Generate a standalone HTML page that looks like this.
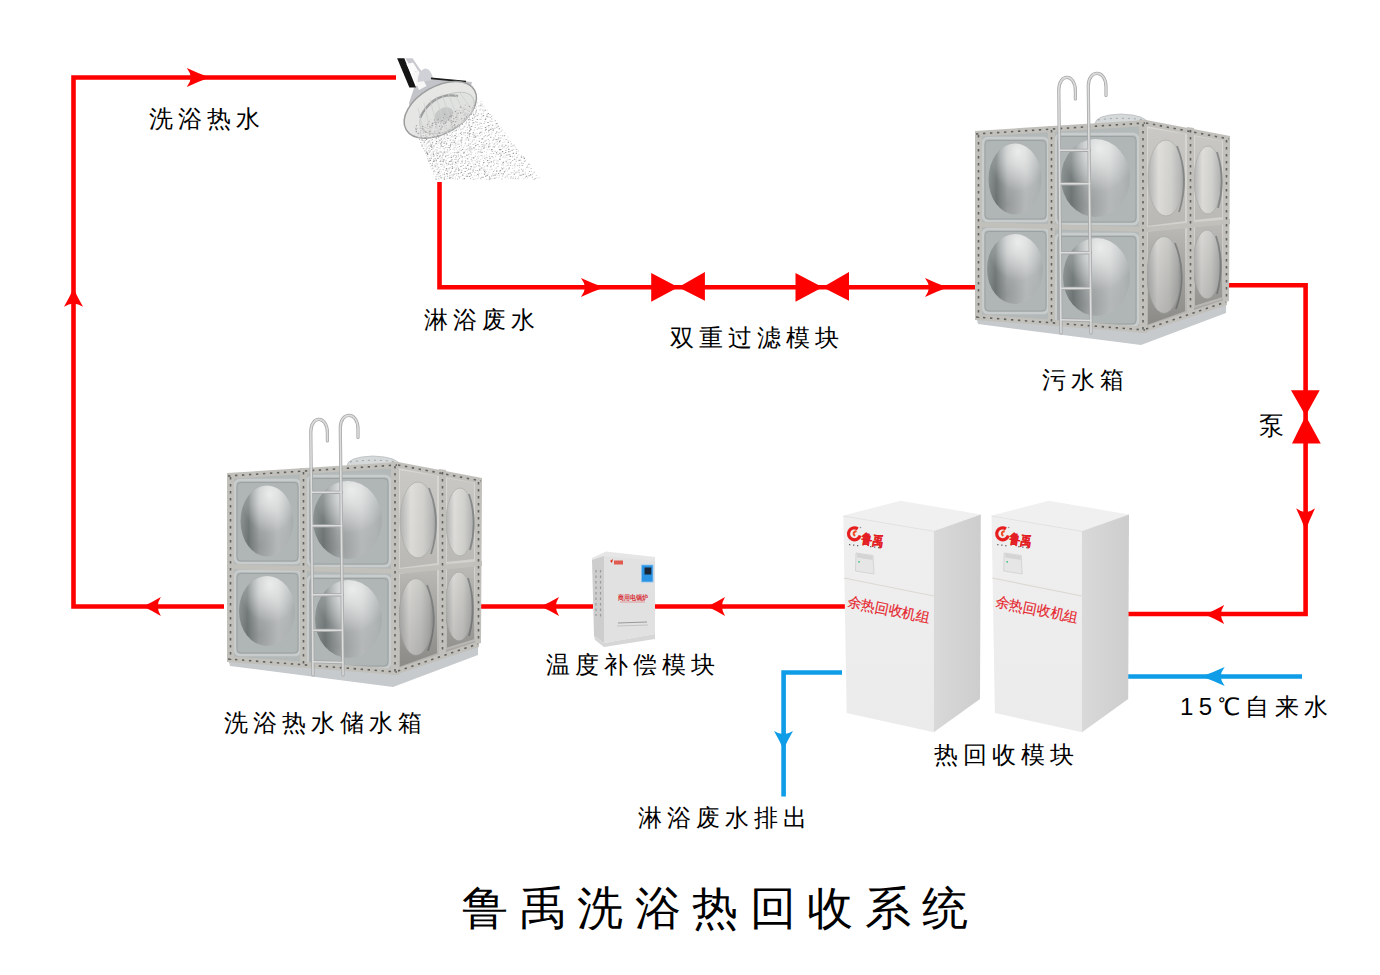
<!DOCTYPE html>
<html><head><meta charset="utf-8">
<style>
html,body{margin:0;padding:0;background:#fff;width:1380px;height:975px;overflow:hidden}
body{position:relative;font-family:"Liberation Sans",sans-serif}
svg{position:absolute;left:0;top:0}
svg text{font-family:"Liberation Sans",sans-serif}
.t{position:absolute;white-space:nowrap;color:#000;line-height:1;font-size:24px}
</style></head><body>
<svg width="1380" height="975" viewBox="0 0 1380 975">
<defs>
<path id="ar" d="M6,0 Q-4,-3.6 -16.5,-9.5 Q-13,-5 -12.5,0 Q-13,5 -16.5,9.5 Q-4,3.6 6,0 Z"/>
<linearGradient id="domeF" x1="0" y1="0" x2="1" y2="0">
<stop offset="0" stop-color="#909696"/><stop offset="0.15" stop-color="#7a8181"/><stop offset="0.36" stop-color="#b2b6b6"/><stop offset="0.7" stop-color="#c2c5c5"/><stop offset="1" stop-color="#a7acac"/></linearGradient>
<radialGradient id="domeD" cx="0.35" cy="0.85" r="0.6">
<stop offset="0" stop-color="#000" stop-opacity="0.16"/><stop offset="1" stop-color="#000" stop-opacity="0"/></radialGradient>
<radialGradient id="domeH" cx="0.55" cy="0.12" r="0.55">
<stop offset="0" stop-color="#fff" stop-opacity="0.7"/><stop offset="1" stop-color="#fff" stop-opacity="0"/></radialGradient>
<linearGradient id="domeS" x1="0" y1="0" x2="1" y2="0">
<stop offset="0" stop-color="#b4b5b4"/><stop offset="0.3" stop-color="#e0dfdc"/><stop offset="0.65" stop-color="#d2d2cf"/><stop offset="0.9" stop-color="#b9bab8"/><stop offset="1" stop-color="#9c9e9d"/></linearGradient>
<linearGradient id="sideShade" gradientUnits="userSpaceOnUse" x1="0" y1="125" x2="0" y2="335"><stop offset="0" stop-color="#000" stop-opacity="0"/><stop offset="0.5" stop-color="#000" stop-opacity="0.03"/><stop offset="1" stop-color="#000" stop-opacity="0.2"/></linearGradient>
<linearGradient id="sideP" gradientUnits="userSpaceOnUse" x1="0" y1="125" x2="0" y2="335"><stop offset="0" stop-color="#cac9c5"/><stop offset="0.5" stop-color="#bebdb9"/><stop offset="1" stop-color="#a8a7a3"/></linearGradient>
<linearGradient id="cabF" x1="0" y1="0" x2="0" y2="1"><stop offset="0" stop-color="#efefef"/><stop offset="1" stop-color="#ebebeb"/></linearGradient>
<linearGradient id="cabS" x1="0" y1="0" x2="1" y2="0"><stop offset="0" stop-color="#d9d9d9"/><stop offset="1" stop-color="#cdcdcd"/></linearGradient>
<g id="tank">
<!-- lid -->
<path d="M1095,124 Q1095,115 1121,114 Q1147,115 1148,124 Z" fill="#d6d9da" stroke="#b9bdbf" stroke-width="0.8"/><path d="M1098,120 Q1121,116.5 1145,120" stroke="#9fa4a6" stroke-width="1" fill="none" stroke-dasharray="2 4"/>
<!-- front face -->
<polygon points="976,133 1145,122 1145,331 976,318" fill="#b3b8b8"/>
<!-- side face -->
<polygon points="1145,122 1229.6,138 1226,304 1145,331" fill="#c9c6c1"/>
<!-- base plate -->
<polygon points="976,316 1145,330 1226,302 1226,313 1141,345 978,324" fill="#c6cacd"/>
<!-- front panel recesses -->
<g fill="#b0b6b6" stroke="#c8cccc" stroke-width="2.6">
<rect x="983" y="138" width="65" height="83" rx="5"/>
<rect x="1056" y="134" width="82" height="90" rx="5"/>
<rect x="983" y="229" width="65" height="84" rx="5"/>
<rect x="1056" y="234" width="82" height="92" rx="5"/>
</g>
<g fill="none" stroke="#9ca1a1" stroke-width="1">
<rect x="985" y="140.5" width="61" height="78.5" rx="4"/>
<rect x="1058" y="136.5" width="78" height="85.5" rx="4"/>
<rect x="985" y="231.5" width="61" height="79.5" rx="4"/>
<rect x="1058" y="236.5" width="78" height="87.5" rx="4"/>
</g>
<!-- domes front -->
<g fill="url(#domeF)">
<ellipse cx="1015" cy="179" rx="26.5" ry="35.5"/>
<ellipse cx="1095.5" cy="178" rx="34.5" ry="39"/>
<ellipse cx="1015" cy="269" rx="28" ry="35"/>
<ellipse cx="1096.5" cy="277" rx="33.5" ry="39"/>
</g>
<g fill="url(#domeD)">
<ellipse cx="1015" cy="179" rx="26.5" ry="35.5"/>
<ellipse cx="1095.5" cy="178" rx="34.5" ry="39"/>
<ellipse cx="1015" cy="269" rx="28" ry="35"/>
<ellipse cx="1096.5" cy="277" rx="33.5" ry="39"/>
</g>
<g fill="url(#domeH)">
<ellipse cx="1015" cy="179" rx="26.5" ry="35.5"/>
<ellipse cx="1095.5" cy="178" rx="34.5" ry="39"/>
<ellipse cx="1015" cy="269" rx="28" ry="35"/>
<ellipse cx="1096.5" cy="277" rx="33.5" ry="39"/>
</g>
<!-- side panels -->
<g fill="url(#sideP)" stroke="#d9d7d3" stroke-width="2">
<polygon points="1147,127 1186,133 1186,222 1147,227"/>
<polygon points="1194,135 1223,140 1223,218 1194,221"/>
<polygon points="1147,231 1186,225 1186,312 1147,326"/>
<polygon points="1194,223 1223,219 1223,298 1194,307"/>
</g>
<g fill="url(#domeS)" stroke="#b0b0ad" stroke-width="0.8">
<ellipse cx="1166" cy="178" rx="18" ry="38"/>
<ellipse cx="1208" cy="180" rx="14" ry="34"/>
<ellipse cx="1164" cy="275" rx="17" ry="38.5"/>
<ellipse cx="1207" cy="264.5" rx="14" ry="34.5"/>
</g>
<g fill="none" stroke="#7d8181" stroke-width="1.8" opacity="0.8">
<path d="M1177,146 Q1190,178 1179,212"/>
<path d="M1217,152 Q1226,180 1218,208"/>
<path d="M1175,243 Q1188,275 1176,309"/>
<path d="M1216,236 Q1225,264 1217,294"/>
</g>
<polygon points="1145,122 1229.6,138 1226,304 1145,331" fill="url(#sideShade)"/>
<!-- flanges -->
<g fill="#c2c0bb">
<polygon points="975,131 1146,120 1146,126 975,137"/>
<polygon points="975,222 1146,227 1146,232 975,227"/>
<polygon points="975,314 1146,327 1146,333 975,320"/>
<rect x="975" y="131" width="7" height="189"/>
<rect x="1048" y="126" width="7" height="197"/>
<rect x="1139" y="120" width="8" height="213"/>
<polygon points="1146,120 1230,136 1230,142 1146,126"/>
<polygon points="1146,227 1230,219 1230,224 1146,232"/>
<polygon points="1146,326 1227,299 1227,305 1146,332"/>
<polygon points="1187,127 1194,128 1194,311 1187,314"/>
<polygon points="1223,136 1230,137 1229,301 1223,303"/>
</g>
<g stroke="#61615f" stroke-width="1.6" stroke-dasharray="2.4 4.6" fill="none">
<line x1="976" y1="134" x2="1145" y2="123"/>
<line x1="978.5" y1="135" x2="978.5" y2="318"/>
<line x1="1051.5" y1="130" x2="1051.5" y2="322"/>
<line x1="1143" y1="124" x2="1143" y2="331"/>
<line x1="1190.5" y1="130" x2="1190.5" y2="311"/>
<line x1="1226.5" y1="140" x2="1226.5" y2="300"/>
<line x1="1146" y1="123" x2="1229" y2="139"/>
<line x1="976" y1="317" x2="1145" y2="330"/>
<line x1="1146" y1="329" x2="1226" y2="302"/>
</g>
<!-- ladder -->
<g fill="none" stroke="#a6a8aa" stroke-width="3.2" stroke-linecap="round">
<path d="M1061,333 L1058.8,90 C1058.8,73 1075.4,73 1075.4,91 L1075.4,99"/>
<path d="M1091,333 L1088.3,86 C1088.3,69 1106,69 1106,87 L1106,95.5"/>
<path d="M1060,150.3 L1089.5,150.3 M1060,183.8 L1089.8,183.8 M1060.4,252.8 L1090.2,252.8 M1060.7,288.3 L1090.5,288.3 M1061,319.7 L1091,320.5"/>
</g>
<g fill="none" stroke="#dcdcdb" stroke-width="1.6" stroke-linecap="round">
<path d="M1061,333 L1058.8,90 C1058.8,73 1075.4,73 1075.4,91 L1075.4,99"/>
<path d="M1091,333 L1088.3,86 C1088.3,69 1106,69 1106,87 L1106,95.5"/>
<path d="M1060,150.3 L1089.5,150.3 M1060,183.8 L1089.8,183.8 M1060.4,252.8 L1090.2,252.8 M1060.7,288.3 L1090.5,288.3 M1061,319.7 L1091,320.5"/>
</g>
</g>
<g id="cab">
<polygon points="843.3,515.6 900.5,500.8 980.8,514.4 933.8,531" fill="#f0f0f0"/>
<polygon points="843.3,515.6 933.8,531 933.8,732.3 846.7,713" fill="url(#cabF)"/>
<polygon points="933.8,531 980.8,514.4 980,699 933.8,732.3" fill="url(#cabS)"/>
<line x1="843.5" y1="516" x2="933.8" y2="531.3" stroke="#e2e2e2" stroke-width="1"/>
<line x1="844" y1="578" x2="933.8" y2="596" stroke="#dcd9d2" stroke-width="1.2"/>
<!-- logo swirl -->
<path d="M857.8,528.8 A6,6 0 1 0 860.2,535.6" stroke="#e61e1e" stroke-width="3.2" fill="none"/>
<path d="M856.5,531 Q851.5,532.5 855,536" stroke="#f04a22" stroke-width="2" fill="none"/>
<circle cx="860.5" cy="527.5" r="0.8" fill="#999"/>
<text x="861" y="542.8" font-size="13.5" font-weight="bold" fill="#e41d24" stroke="#e41d24" stroke-width="0.2" textLength="22" lengthAdjust="spacingAndGlyphs" transform="rotate(9 861 543)">鲁禹</text>
<g fill="#666"><rect x="849" y="544" width="1.3" height="1.3"/><rect x="853" y="544.5" width="1.3" height="1.3"/><rect x="857" y="545" width="1.3" height="1.3"/><rect x="870" y="546" width="1.3" height="1.3"/><rect x="874" y="546.5" width="1.3" height="1.3"/><rect x="878" y="547" width="1.3" height="1.3"/></g>
<!-- control panel -->
<polygon points="856,553 873,555.5 874,574 855.5,571" fill="#e6e6e6" stroke="#cfcfcf" stroke-width="0.8"/>
<polygon points="857,553.5 872.5,556 872.5,560 857,557.5" fill="#d4d4d4"/>
<circle cx="859" cy="561.8" r="0.9" fill="#3bbf7a"/>
<!-- red label -->
<text x="846.5" y="606" font-size="14.1" fill="#e6262e" stroke="#e6262e" stroke-width="0.15" transform="rotate(11.4 846.5 606)">余热回收机组</text>
</g>

</defs><g fill="none" stroke="#ff0000" stroke-width="4.6" stroke-linejoin="miter">
<polyline points="396,77.5 73.5,77.5 73.5,606.5 224,606.5"/>
<polyline points="439.5,182 439.5,287.3 976,287.3"/>
<polyline points="1228,285.2 1305.6,285.2 1305.6,614 1128,614"/>
<line x1="481" y1="606.5" x2="593" y2="606.5"/>
<line x1="655" y1="606.5" x2="848" y2="606.5"/>
</g>
<g fill="none" stroke="#0e9de6" stroke-width="4.6">
<polyline points="842,672.5 783.6,672.5 783.6,796.5"/>
<line x1="1128" y1="676.5" x2="1302" y2="676.5"/>
</g>
<g fill="#ff0000">
<use href="#ar" transform="translate(203.6,77.4) rotate(0) scale(1.018,1)"/>
<use href="#ar" transform="translate(73.5,293.2) rotate(-90) scale(0.824,1)"/>
<use href="#ar" transform="translate(597.9,287.4) rotate(0) scale(1.030,1)"/>
<use href="#ar" transform="translate(941.7,287.4) rotate(0) scale(1.012,1)"/>
<use href="#ar" transform="translate(1305.6,524.5) rotate(90) scale(0.988,1)"/>
<use href="#ar" transform="translate(1210.1,614.5) rotate(180) scale(0.855,1)"/>
<use href="#ar" transform="translate(712,606.5) rotate(180) scale(0.788,1)"/>
<use href="#ar" transform="translate(545.6,606.5) rotate(180) scale(0.812,1)"/>
<use href="#ar" transform="translate(147.8,606.5) rotate(180) scale(0.788,1)"/>
<path d="M651.2,273 L678.3,287.3 L651.2,301.8 Z M704.9,272 L678.3,287.3 L704.9,300.7 Z"/>
<path d="M795.5,273 L822.6,287.3 L795.5,301.8 Z M849,272 L822.6,287.3 L849,300.7 Z"/>
<path d="M1291,390.3 L1305.6,415.8 L1319.7,390.3 Z M1292,443.4 L1305.6,415.8 L1320.8,443.4 Z"/>
</g>
<g fill="#0e9de6">
<use href="#ar" transform="translate(1207.7,676.4) rotate(180) scale(1.030,1)"/>
<use href="#ar" transform="translate(783.5,744.6) rotate(90) scale(0.824,1)"/>
</g>
<use href="#tank"/>
<use href="#tank" transform="translate(-748,342)"/>
<use href="#cab"/>
<use href="#cab" transform="translate(148.2,0)"/>
<g id="module">
<polygon points="592,558 606,551.5 655,557 655,562 604,557 592,563" fill="#e6e6e6"/>
<polygon points="592,560 604,556 604,643 594,636" fill="#cdcdcd"/>
<polygon points="604,556 655,561 655,634 604,643" fill="#e1e1e1"/>
<polygon points="594,636 604,643 655,634 655,639 604,647 595,640" fill="#d6d6d6"/>
<g stroke="#9a9a9a" stroke-width="1.2" stroke-dasharray="2.5 3"><line x1="596" y1="570" x2="596" y2="616"/><line x1="600.5" y1="570" x2="600.5" y2="618"/></g>
<rect x="641.5" y="565" width="11.5" height="17" fill="#2a93e4" stroke="#8cc4f0" stroke-width="0.8"/>
<rect x="644.5" y="567.5" width="6.8" height="7" fill="#1a2636"/>
<text x="618" y="599.5" font-size="6.5" font-weight="bold" fill="#d8323a" textLength="30" lengthAdjust="spacingAndGlyphs">商用电锅炉</text>
<line x1="620" y1="602" x2="645" y2="602" stroke="#d88" stroke-width="0.8"/>
<path d="M610,561 l3,-2 l-1,4 z" fill="#e03020"/><rect x="614" y="560.5" width="9" height="4" fill="#e05a50"/>
<line x1="618" y1="623" x2="647" y2="622" stroke="#999" stroke-width="1.2"/>
<line x1="617" y1="626" x2="648" y2="625" stroke="#bbb" stroke-width="0.8"/>
</g>
<g id="shower">
<polygon points="409,103 414,88 421,82 432,78 472,82 468,98 412,128" fill="#c3c4c9"/>
<polygon points="397.1,58.2 404.3,58.2 416,87.4 409.4,87.4" fill="#151515"/>
<polygon points="405.3,58.2 412.5,58.2 428,80.7 420.7,83" fill="#c9cacf"/>
<polygon points="406.4,64 413,62.5 418,70.5 411,73" fill="#fbfbfb"/>
<polygon points="411.5,73 418.5,70.5 426.5,86 419,90" fill="#f6f6f6"/>
<path d="M417.5,82 Q418,70 425,68.5 Q431,68 433.5,80 Z" fill="#d0d1d6"/>
<path d="M431,78.3 L466,81.6" stroke="#1e1e1e" stroke-width="1.8" fill="none"/>
<ellipse cx="440.3" cy="109.8" rx="39.5" ry="23.5" transform="rotate(-30 440.3 109.8)" fill="#e6e7e4" stroke="#9c9e9e" stroke-width="1.5"/>
<ellipse cx="447" cy="113" rx="30" ry="16.5" transform="rotate(-30 447 113)" fill="#e0e2df" stroke="#c4c6c4" stroke-width="1"/>
<path d="M420,118 Q432,92 458,96" stroke="#8d8f8f" stroke-width="2.2" fill="none" opacity="0.8"/>
<ellipse cx="444" cy="115" rx="10" ry="7" transform="rotate(-25 444 115)" fill="#c6c8c7"/>
<g stroke="#cfd1d0" stroke-width="0.8">
<line x1="418" y1="108" x2="424" y2="134"/><line x1="424" y1="103" x2="431" y2="133"/><line x1="430" y1="99" x2="438" y2="131"/><line x1="436" y1="96" x2="445" y2="128"/><line x1="442" y1="94" x2="452" y2="125"/><line x1="448" y1="93" x2="459" y2="121"/><line x1="454" y1="92" x2="466" y2="116"/><line x1="460" y1="93" x2="472" y2="110"/>
</g>
<path d="M415.5 129.6h1.3M415.7 131.6h1.3M417.5 133.5h1.3M421.5 146.0h1.3M428.3 161.1h1.3M435.6 179.3h1.3M415.8 125.7h1.3M420.4 136.0h1.3M425.9 152.1h1.3M426.9 153.4h1.3M427.0 154.4h1.3M429.8 160.4h1.3M431.5 165.4h1.3M423.8 142.2h1.3M430.6 158.3h1.3M432.9 161.4h1.3M434.5 166.1h1.3M437.6 172.4h1.3M424.5 138.0h1.3M433.9 161.0h1.3M422.4 128.9h1.3M425.9 139.4h1.3M427.6 142.0h1.3M430.2 146.5h1.3M432.8 154.4h1.3M435.7 160.2h1.3M443.8 179.1h1.3M422.0 126.5h1.3M424.9 132.1h1.3M430.6 145.1h1.3M431.2 147.1h1.3M436.5 155.7h1.3M437.3 158.4h1.3M440.2 164.2h1.3M443.7 174.2h1.3M431.9 142.8h1.3M433.3 146.0h1.3M437.3 153.4h1.3M439.0 156.8h1.3M440.0 161.1h1.3M446.2 173.5h1.3M448.9 178.1h1.3M429.1 134.8h1.3M442.4 161.4h1.3M445.9 168.6h1.3M450.2 177.8h1.3M426.9 124.4h1.3M429.2 131.4h1.3M435.4 143.5h1.3M443.3 159.9h1.3M445.9 163.8h1.3M449.8 172.7h1.3M429.3 127.0h1.3M435.6 138.1h1.3M436.0 141.6h1.3M444.9 156.7h1.3M453.4 174.2h1.3M440.1 143.9h1.3M443.6 152.1h1.3M448.9 161.5h1.3M451.7 166.7h1.3M451.8 168.4h1.3M431.7 123.7h1.3M431.5 125.6h1.3M437.2 135.9h1.3M439.2 140.2h1.3M440.9 142.1h1.3M442.3 146.5h1.3M450.3 161.1h1.3M451.6 164.0h1.3M457.7 173.7h1.3M432.1 123.2h1.3M440.7 139.0h1.3M443.5 143.1h1.3M450.6 157.4h1.3M451.3 159.8h1.3M458.0 170.1h1.3M434.4 122.4h1.3M435.2 124.4h1.3M438.8 132.9h1.3M445.9 143.9h1.3M455.0 162.4h1.3M460.8 172.4h1.3M462.1 175.1h1.3M463.7 178.6h1.3M433.8 120.0h1.3M449.0 147.8h1.3M457.3 161.3h1.3M437.5 122.7h1.3M438.8 126.2h1.3M440.3 129.1h1.3M450.0 144.2h1.3M449.7 145.9h1.3M464.5 171.5h1.3M466.5 176.4h1.3M437.6 119.3h1.3M441.6 126.7h1.3M446.5 134.9h1.3M447.3 138.4h1.3M456.4 152.8h1.3M461.4 161.3h1.3M465.6 168.5h1.3M467.8 173.7h1.3M468.9 176.5h1.3M457.9 152.3h1.3M467.9 169.3h1.3M469.5 173.1h1.3M470.6 175.0h1.3M441.4 120.5h1.3M443.1 123.8h1.3M453.7 142.1h1.3M461.8 157.0h1.3M467.1 165.4h1.3M469.9 169.0h1.3M444.6 123.2h1.3M470.5 166.6h1.3M472.5 171.0h1.3M443.3 117.6h1.3M445.3 122.1h1.3M454.4 135.6h1.3M454.8 138.4h1.3M461.9 149.5h1.3M463.4 152.4h1.3M466.1 155.2h1.3M467.1 158.7h1.3M477.2 174.4h1.3M444.1 114.4h1.3M448.0 119.9h1.3M451.6 127.0h1.3M460.4 140.9h1.3M474.7 164.3h1.3M479.0 169.9h1.3M482.4 177.3h1.3M450.6 120.7h1.3M451.2 122.8h1.3M454.4 127.0h1.3M455.7 130.3h1.3M461.3 137.7h1.3M473.0 157.9h1.3M476.4 162.0h1.3M478.3 165.8h1.3M483.9 174.1h1.3M485.1 176.2h1.3M449.2 116.6h1.3M452.5 121.4h1.3M454.0 124.9h1.3M459.9 133.2h1.3M481.2 168.0h1.3M483.3 170.0h1.3M484.0 171.5h1.3M486.5 175.5h1.3M488.9 179.1h1.3M450.6 115.9h1.3M453.1 118.8h1.3M454.8 121.7h1.3M488.9 177.0h1.3M466.8 137.7h1.3M473.3 147.9h1.3M483.0 162.6h1.3M455.3 117.6h1.3M464.5 132.8h1.3M486.6 165.9h1.3M494.2 178.3h1.3M461.8 124.3h1.3M467.2 133.1h1.3M468.8 134.8h1.3M475.1 145.5h1.3M479.5 152.0h1.3M494.4 175.1h1.3M454.8 111.5h1.3M469.4 133.5h1.3M481.3 152.4h1.3M487.0 160.5h1.3M488.4 162.7h1.3M457.5 113.3h1.3M460.9 118.8h1.3M469.2 130.6h1.3M473.5 137.2h1.3M490.7 161.9h1.3M496.1 171.1h1.3M497.9 173.5h1.3M460.0 112.9h1.3M463.8 118.9h1.3M468.5 125.8h1.3M469.3 128.0h1.3M470.2 129.4h1.3M472.7 132.8h1.3M475.0 136.9h1.3M478.8 141.2h1.3M483.2 148.1h1.3M489.5 158.3h1.3M470.7 126.5h1.3M491.5 156.8h1.3M499.7 170.5h1.3M502.6 173.9h1.3M465.8 116.9h1.3M467.8 119.8h1.3M481.3 139.0h1.3M501.6 168.9h1.3M503.9 171.9h1.3M460.1 107.1h1.3M469.3 119.7h1.3M479.0 133.3h1.3M482.0 138.8h1.3M485.9 143.7h1.3M488.0 146.9h1.3M490.9 149.6h1.3M473.0 122.8h1.3M480.2 132.3h1.3M499.2 159.4h1.3M472.0 118.3h1.3M495.9 152.9h1.3M502.7 162.4h1.3M470.7 114.2h1.3M493.7 147.0h1.3M499.2 153.2h1.3M500.5 155.1h1.3M505.5 161.7h1.3M508.8 168.0h1.3M513.7 174.2h1.3M473.1 114.9h1.3M476.6 119.5h1.3M490.1 137.2h1.3M498.9 149.6h1.3M468.8 106.5h1.3M484.8 127.5h1.3M485.4 129.4h1.3M500.1 149.6h1.3M501.9 151.6h1.3M509.8 163.0h1.3M519.5 175.3h1.3M475.3 112.0h1.3M488.3 130.4h1.3M495.5 139.5h1.3M505.0 152.5h1.3M506.3 155.0h1.3M474.1 108.2h1.3M490.1 129.4h1.3M499.0 141.6h1.3M501.4 146.0h1.3M508.5 154.8h1.3M509.7 156.4h1.3M522.5 174.4h1.3M474.0 105.3h1.3M484.8 119.5h1.3M488.2 125.6h1.3M492.6 130.1h1.3M498.1 138.0h1.3M508.0 151.8h1.3M513.9 159.3h1.3M522.2 171.0h1.3M526.0 176.2h1.3M482.8 115.6h1.3M496.1 132.0h1.3M505.1 145.2h1.3M508.1 149.4h1.3M528.4 175.8h1.3M486.3 116.4h1.3M491.9 125.3h1.3M511.5 150.3h1.3M512.7 153.4h1.3M518.5 160.4h1.3M530.0 174.9h1.3M480.2 105.8h1.3M507.7 142.2h1.3M515.7 153.2h1.3M484.6 110.3h1.3M487.7 113.5h1.3M495.7 123.7h1.3M497.5 126.2h1.3M498.7 128.8h1.3M503.8 135.8h1.3M520.8 157.1h1.3M523.7 158.4h1.3M528.3 164.2h1.3" stroke="#9c9c9c" stroke-width="1.1" fill="none"/><path d="M415.1 128.5h1.2M419.5 138.4h1.2M419.0 139.7h1.2M420.3 142.5h1.2M421.5 144.9h1.2M423.1 148.5h1.2M424.1 150.8h1.2M425.5 153.6h1.2M429.7 163.6h1.2M431.6 168.8h1.2M433.2 171.7h1.2M416.5 128.4h1.2M418.4 133.0h1.2M420.0 137.4h1.2M421.4 139.5h1.2M421.6 140.5h1.2M425.7 149.0h1.2M428.8 158.6h1.2M431.9 163.3h1.2M433.8 170.7h1.2M436.3 174.7h1.2M438.1 178.8h1.2M420.2 132.8h1.2M419.9 133.9h1.2M423.3 140.7h1.2M428.2 150.7h1.2M428.9 152.2h1.2M430.3 155.0h1.2M436.5 169.3h1.2M437.5 173.9h1.2M438.5 176.3h1.2M440.0 177.6h1.2M419.9 128.4h1.2M420.2 130.6h1.2M422.9 135.7h1.2M424.8 140.4h1.2M426.4 143.2h1.2M428.2 145.9h1.2M428.7 148.4h1.2M429.8 151.0h1.2M432.8 156.2h1.2M433.2 159.8h1.2M437.9 167.8h1.2M438.7 171.3h1.2M439.2 173.1h1.2M440.1 175.8h1.2M441.0 177.8h1.2M422.8 132.2h1.2M425.1 135.3h1.2M425.9 136.7h1.2M431.0 149.5h1.2M432.7 151.8h1.2M432.8 153.2h1.2M433.7 155.9h1.2M435.0 158.7h1.2M437.2 164.1h1.2M443.8 177.3h1.2M423.8 130.3h1.2M427.5 137.5h1.2M428.7 140.8h1.2M429.3 141.9h1.2M430.1 144.1h1.2M432.3 148.9h1.2M435.5 153.9h1.2M442.6 169.4h1.2M424.6 127.6h1.2M426.0 131.9h1.2M429.5 138.1h1.2M435.3 149.8h1.2M436.1 152.1h1.2M441.5 164.4h1.2M443.7 167.1h1.2M445.0 170.3h1.2M446.7 174.6h1.2M447.0 176.3h1.2M427.3 128.7h1.2M428.7 133.1h1.2M431.7 139.5h1.2M436.5 147.5h1.2M439.7 155.5h1.2M441.6 159.0h1.2M446.1 170.1h1.2M447.0 171.3h1.2M449.4 175.8h1.2M426.8 126.1h1.2M431.8 134.2h1.2M431.7 136.7h1.2M439.5 151.3h1.2M440.5 152.4h1.2M442.0 155.7h1.2M445.1 162.2h1.2M448.5 168.3h1.2M451.5 175.0h1.2M452.2 178.3h1.2M433.4 133.9h1.2M433.2 135.4h1.2M442.4 153.3h1.2M442.6 154.8h1.2M445.6 160.2h1.2M448.0 163.3h1.2M448.1 164.5h1.2M449.4 167.9h1.2M450.8 171.1h1.2M428.6 121.5h1.2M431.1 127.8h1.2M433.9 131.3h1.2M434.0 133.0h1.2M438.4 141.9h1.2M440.8 145.5h1.2M440.5 146.7h1.2M445.3 155.7h1.2M450.0 164.7h1.2M454.0 171.7h1.2M455.6 173.7h1.2M457.0 179.0h1.2M435.5 131.1h1.2M436.7 134.2h1.2M437.9 137.5h1.2M445.5 152.0h1.2M447.3 155.5h1.2M455.4 169.5h1.2M455.0 171.0h1.2M458.3 176.4h1.2M458.9 177.9h1.2M435.0 126.7h1.2M435.6 127.9h1.2M438.0 132.9h1.2M439.2 136.6h1.2M445.3 147.6h1.2M446.8 149.8h1.2M447.1 152.0h1.2M452.4 162.0h1.2M455.6 168.1h1.2M438.1 131.0h1.2M444.5 141.3h1.2M447.5 147.5h1.2M452.7 156.8h1.2M454.4 159.5h1.2M455.4 163.6h1.2M457.8 168.4h1.2M459.1 169.8h1.2M435.8 122.7h1.2M439.6 129.8h1.2M441.5 134.2h1.2M443.9 138.2h1.2M449.7 149.5h1.2M453.3 155.5h1.2M455.2 157.8h1.2M460.0 166.6h1.2M461.3 170.1h1.2M465.7 176.4h1.2M436.5 121.0h1.2M440.7 127.6h1.2M443.7 135.1h1.2M454.1 152.5h1.2M455.4 155.6h1.2M456.0 156.8h1.2M457.8 159.8h1.2M460.9 166.2h1.2M463.2 168.5h1.2M440.2 123.6h1.2M440.8 125.3h1.2M444.6 132.7h1.2M449.6 140.3h1.2M450.8 142.4h1.2M453.5 147.9h1.2M457.8 155.1h1.2M458.8 158.3h1.2M461.4 162.9h1.2M462.7 165.4h1.2M470.0 178.7h1.2M440.0 122.2h1.2M452.5 142.7h1.2M460.3 155.6h1.2M460.6 157.0h1.2M464.2 163.4h1.2M472.9 179.3h1.2M445.7 128.2h1.2M447.5 130.0h1.2M449.6 135.3h1.2M451.2 136.8h1.2M452.4 140.2h1.2M454.8 143.2h1.2M455.3 145.1h1.2M464.9 160.7h1.2M465.0 162.1h1.2M443.4 121.6h1.2M445.6 125.6h1.2M448.7 129.3h1.2M458.8 146.5h1.2M460.7 150.7h1.2M462.8 153.3h1.2M464.2 156.8h1.2M467.6 161.6h1.2M468.2 163.7h1.2M472.5 169.7h1.2M474.3 172.7h1.2M450.3 130.3h1.2M451.8 132.7h1.2M458.2 144.2h1.2M475.2 170.6h1.2M480.0 178.7h1.2M450.2 125.9h1.2M453.4 131.0h1.2M456.1 136.7h1.2M460.8 145.2h1.2M467.7 154.7h1.2M470.8 159.7h1.2M474.3 167.2h1.2M477.1 170.5h1.2M480.9 177.4h1.2M446.3 117.5h1.2M449.4 121.2h1.2M450.8 124.3h1.2M455.2 130.9h1.2M460.6 139.6h1.2M461.0 142.3h1.2M465.6 149.7h1.2M471.4 157.8h1.2M448.7 117.8h1.2M452.7 125.4h1.2M464.7 143.8h1.2M466.3 146.0h1.2M467.2 149.0h1.2M468.8 150.3h1.2M470.1 151.9h1.2M470.5 154.3h1.2M479.4 168.3h1.2M450.7 117.8h1.2M456.5 127.9h1.2M461.0 134.6h1.2M467.9 145.3h1.2M468.9 147.0h1.2M469.3 148.7h1.2M470.3 149.9h1.2M474.7 156.2h1.2M478.8 163.4h1.2M484.7 172.7h1.2M449.8 114.3h1.2M457.3 125.3h1.2M458.7 127.8h1.2M460.8 132.3h1.2M468.2 144.0h1.2M470.2 147.0h1.2M471.2 148.4h1.2M477.6 158.1h1.2M479.1 161.3h1.2M482.1 165.1h1.2M487.3 174.2h1.2M490.1 178.6h1.2M449.7 112.4h1.2M452.8 116.1h1.2M456.3 121.8h1.2M457.7 124.4h1.2M459.1 126.3h1.2M460.3 129.2h1.2M463.0 132.9h1.2M467.9 139.1h1.2M468.1 140.5h1.2M469.9 143.9h1.2M491.1 176.0h1.2M452.2 112.7h1.2M456.2 119.7h1.2M462.3 128.9h1.2M472.5 144.4h1.2M475.4 149.4h1.2M477.6 151.8h1.2M480.7 155.7h1.2M492.3 173.9h1.2M492.6 175.6h1.2M455.7 116.4h1.2M463.4 127.0h1.2M469.0 136.4h1.2M474.5 143.7h1.2M478.1 149.4h1.2M484.0 158.4h1.2M490.0 166.9h1.2M491.3 169.3h1.2M492.9 171.5h1.2M456.5 113.2h1.2M456.9 115.2h1.2M464.2 126.3h1.2M468.8 131.6h1.2M473.5 139.9h1.2M476.8 144.6h1.2M478.6 146.7h1.2M480.4 149.9h1.2M485.6 157.7h1.2M490.7 166.1h1.2M495.6 173.9h1.2M456.3 110.2h1.2M462.5 120.6h1.2M465.4 123.9h1.2M466.9 127.3h1.2M472.3 134.4h1.2M473.4 135.8h1.2M493.0 165.3h1.2M501.3 179.0h1.2M458.5 110.7h1.2M465.8 122.2h1.2M474.3 135.1h1.2M481.4 144.6h1.2M481.9 146.3h1.2M488.8 156.3h1.2M492.9 162.0h1.2M499.3 171.7h1.2M500.7 173.6h1.2M501.9 176.0h1.2M463.4 115.3h1.2M464.2 118.1h1.2M468.5 124.6h1.2M476.6 135.8h1.2M480.8 142.5h1.2M483.2 145.1h1.2M483.8 147.0h1.2M493.5 160.2h1.2M496.0 163.2h1.2M497.4 166.5h1.2M504.7 177.2h1.2M462.3 112.8h1.2M464.3 114.9h1.2M468.8 122.3h1.2M482.8 142.7h1.2M484.4 145.1h1.2M497.4 163.9h1.2M506.6 176.1h1.2M462.9 110.9h1.2M465.2 113.2h1.2M466.7 114.9h1.2M474.7 127.5h1.2M476.6 129.3h1.2M484.3 141.2h1.2M491.6 151.4h1.2M492.9 153.5h1.2M497.4 161.0h1.2M503.1 168.0h1.2M507.6 174.4h1.2M510.2 178.1h1.2M463.2 108.0h1.2M463.9 109.5h1.2M467.2 113.9h1.2M468.3 116.0h1.2M471.8 120.5h1.2M477.8 128.1h1.2M483.5 136.6h1.2M485.4 140.7h1.2M488.5 144.8h1.2M489.4 146.2h1.2M491.9 149.7h1.2M502.2 163.2h1.2M502.5 165.0h1.2M510.6 176.8h1.2M512.4 178.3h1.2M465.2 108.9h1.2M467.1 110.3h1.2M469.0 114.7h1.2M475.1 121.8h1.2M476.9 124.8h1.2M479.3 128.2h1.2M484.8 135.6h1.2M487.7 139.4h1.2M489.2 143.4h1.2M492.6 146.8h1.2M497.6 154.4h1.2M499.6 156.3h1.2M508.1 169.0h1.2M510.6 172.9h1.2M514.9 178.6h1.2M464.7 105.1h1.2M468.8 111.4h1.2M473.9 117.9h1.2M476.5 122.4h1.2M481.2 128.7h1.2M486.6 136.1h1.2M507.4 165.3h1.2M517.3 178.7h1.2M472.4 113.0h1.2M474.5 116.4h1.2M479.5 123.1h1.2M484.8 130.4h1.2M487.9 135.3h1.2M492.3 140.5h1.2M493.9 143.8h1.2M509.9 165.4h1.2M513.7 170.8h1.2M515.1 172.9h1.2M472.4 110.9h1.2M475.0 113.9h1.2M476.4 115.9h1.2M480.8 123.4h1.2M488.0 131.9h1.2M489.0 134.7h1.2M493.2 139.3h1.2M496.6 144.1h1.2M498.2 147.1h1.2M503.5 153.5h1.2M516.4 172.1h1.2M471.9 107.7h1.2M477.3 115.3h1.2M480.2 119.4h1.2M483.4 123.6h1.2M493.3 137.9h1.2M496.6 141.2h1.2M509.3 159.5h1.2M513.7 165.1h1.2M518.2 170.6h1.2M518.6 172.7h1.2M521.0 175.3h1.2M475.8 110.6h1.2M477.9 113.8h1.2M484.2 121.8h1.2M494.8 135.9h1.2M497.3 139.5h1.2M505.3 150.5h1.2M512.1 160.5h1.2M514.6 163.8h1.2M516.8 165.7h1.2M524.8 177.1h1.2M480.8 114.1h1.2M486.9 122.5h1.2M495.2 133.5h1.2M499.6 140.5h1.2M503.7 146.7h1.2M511.8 156.7h1.2M515.7 161.3h1.2M518.7 165.5h1.2M520.9 169.2h1.2M524.6 174.1h1.2M479.4 109.9h1.2M485.2 118.3h1.2M487.9 122.6h1.2M492.3 128.6h1.2M500.3 138.0h1.2M509.5 151.4h1.2M478.3 106.0h1.2M489.6 121.1h1.2M494.2 128.2h1.2M507.7 146.1h1.2M516.4 157.5h1.2M521.1 163.1h1.2M521.9 165.5h1.2M531.9 177.2h1.2M533.5 179.4h1.2M482.3 110.0h1.2M486.5 114.4h1.2M487.5 117.0h1.2M491.3 121.4h1.2M496.2 127.6h1.2M502.0 135.8h1.2M505.6 139.5h1.2M510.5 146.4h1.2M520.1 160.2h1.2M522.5 163.6h1.2M526.3 167.5h1.2M528.9 171.5h1.2M534.7 178.5h1.2M480.4 104.1h1.2M489.7 117.4h1.2M491.1 119.0h1.2M500.5 131.1h1.2M510.7 143.9h1.2M512.2 145.9h1.2M523.7 161.4h1.2M526.8 166.0h1.2M489.4 114.6h1.2M491.1 116.3h1.2M494.8 120.7h1.2M496.8 123.5h1.2M513.5 145.2h1.2M516.1 149.3h1.2M522.9 157.0h1.2M524.7 160.8h1.2M530.6 168.5h1.2M533.7 172.1h1.2" stroke="#bdbdbd" stroke-width="1" fill="none"/><path d="M414.1 127.4h1M417.8 135.0h1M418.5 137.3h1M426.2 155.9h1M426.9 158.5h1M427.6 159.8h1M430.2 166.5h1M433.0 174.2h1M435.3 176.6h1M435.1 178.2h1M416.0 127.2h1M418.3 131.4h1M423.3 142.8h1M423.7 145.0h1M424.6 146.1h1M425.5 150.9h1M427.6 156.2h1M432.5 167.2h1M432.7 168.5h1M434.8 171.8h1M436.3 176.6h1M418.9 128.4h1M419.9 131.3h1M421.6 135.5h1M422.8 137.5h1M425.8 144.7h1M426.4 146.8h1M426.9 147.9h1M431.1 156.9h1M434.4 164.3h1M435.6 167.1h1M420.8 132.0h1M422.1 133.4h1M431.4 153.1h1M433.8 158.5h1M435.8 163.6h1M436.3 164.9h1M437.1 166.3h1M438.9 169.9h1M419.9 126.0h1M421.9 130.5h1M429.4 145.3h1M435.9 161.8h1M438.6 167.3h1M440.0 169.3h1M440.9 171.3h1M442.2 174.6h1M423.4 127.7h1M425.6 134.2h1M434.1 151.1h1M439.0 161.5h1M440.8 166.5h1M443.9 172.6h1M444.7 176.1h1M446.5 178.4h1M422.5 124.8h1M425.2 130.3h1M427.5 134.7h1M430.8 140.3h1M432.0 144.2h1M433.4 147.1h1M439.8 159.0h1M442.6 165.8h1M424.9 125.9h1M427.5 130.6h1M430.9 137.9h1M432.5 141.0h1M434.7 144.2h1M436.6 150.3h1M438.6 152.4h1M438.4 154.2h1M440.9 157.3h1M442.8 162.8h1M443.9 165.1h1M449.0 173.8h1M428.9 128.2h1M434.5 140.1h1M436.5 145.0h1M438.4 148.3h1M442.1 157.1h1M446.6 165.6h1M448.4 169.9h1M452.3 176.7h1M427.5 124.1h1M430.8 130.4h1M431.5 132.1h1M435.5 140.2h1M438.2 143.6h1M439.8 146.5h1M439.6 148.4h1M440.9 151.3h1M453.0 175.4h1M454.8 177.1h1M455.1 179.0h1M428.5 123.3h1M431.1 126.7h1M435.4 136.4h1M437.8 139.3h1M442.8 148.6h1M444.6 153.5h1M447.3 158.3h1M456.2 175.4h1M434.0 129.1h1M436.2 132.9h1M441.2 144.0h1M444.1 148.6h1M444.2 149.9h1M448.5 157.5h1M453.7 167.4h1M430.6 119.6h1M437.0 131.4h1M439.2 135.0h1M442.1 140.7h1M442.5 141.9h1M444.5 145.7h1M448.6 154.4h1M453.6 164.4h1M455.3 165.7h1M459.8 173.4h1M460.3 176.6h1M462.6 178.9h1M436.4 127.8h1M437.5 129.3h1M440.9 134.4h1M441.6 137.8h1M442.9 139.2h1M448.7 150.7h1M450.2 153.3h1M451.2 155.6h1M457.1 165.8h1M457.5 167.2h1M437.1 125.5h1M438.5 128.6h1M439.9 131.5h1M441.2 132.7h1M443.5 136.6h1M445.3 139.4h1M445.7 142.4h1M448.1 145.5h1M452.3 152.6h1M456.0 159.6h1M457.4 163.1h1M463.6 173.5h1M442.8 132.1h1M445.9 137.2h1M446.8 140.7h1M452.6 149.3h1M454.2 153.9h1M460.0 163.5h1M465.8 174.9h1M438.4 121.7h1M443.5 129.9h1M451.6 144.8h1M454.0 149.9h1M458.1 156.6h1M464.8 167.1h1M466.8 170.6h1M439.2 119.8h1M442.2 124.4h1M443.2 126.7h1M444.1 129.0h1M446.8 132.5h1M448.6 135.9h1M449.5 138.3h1M450.4 139.7h1M453.5 145.0h1M455.1 147.3h1M456.0 148.9h1M457.1 151.1h1M462.2 160.1h1M465.8 167.1h1M471.9 177.3h1M444.5 125.3h1M448.9 132.9h1M457.1 147.4h1M458.7 149.5h1M459.4 150.8h1M460.3 154.1h1M471.7 172.6h1M473.8 175.5h1M474.8 178.9h1M442.1 118.9h1M447.6 128.1h1M450.1 132.0h1M451.0 134.2h1M452.1 135.6h1M452.8 136.8h1M454.6 140.5h1M456.3 143.1h1M457.4 144.4h1M459.8 148.9h1M465.5 158.7h1M475.9 175.7h1M477.3 178.5h1M444.8 120.6h1M448.3 125.4h1M449.5 127.6h1M457.6 141.8h1M461.2 147.0h1M463.9 153.6h1M469.1 161.9h1M469.8 163.6h1M472.8 166.7h1M473.4 168.1h1M477.9 175.6h1M478.2 177.0h1M444.3 117.5h1M446.3 119.7h1M447.3 122.1h1M450.4 127.9h1M455.3 133.9h1M458.4 140.4h1M460.8 143.3h1M463.0 147.6h1M464.5 151.2h1M468.9 156.6h1M471.2 161.1h1M472.5 162.9h1M473.4 164.7h1M478.0 171.9h1M478.8 173.7h1M449.8 122.7h1M456.1 133.7h1M458.5 136.1h1M463.8 146.0h1M467.1 152.0h1M468.9 154.0h1M472.2 160.3h1M476.0 166.2h1M480.9 173.3h1M458.1 134.1h1M461.7 140.2h1M474.6 160.5h1M480.6 170.1h1M486.2 179.4h1M451.2 119.6h1M453.9 123.1h1M457.8 129.7h1M462.1 137.9h1M464.6 140.1h1M465.1 142.7h1M471.4 152.6h1M476.1 159.4h1M477.6 160.8h1M479.8 166.2h1M460.4 130.1h1M463.4 134.8h1M465.6 138.7h1M466.1 140.0h1M471.7 149.7h1M475.0 153.2h1M477.1 156.7h1M483.5 167.9h1M484.7 169.9h1M486.1 171.5h1M454.2 119.2h1M464.8 135.6h1M474.2 150.2h1M476.9 153.2h1M478.4 155.9h1M480.3 159.4h1M484.1 166.4h1M486.7 169.3h1M488.5 172.2h1M492.6 178.6h1M454.0 114.9h1M458.1 122.7h1M460.5 124.8h1M467.1 135.7h1M469.4 139.2h1M471.2 142.0h1M474.8 146.6h1M481.8 158.2h1M483.1 160.5h1M484.0 162.2h1M489.4 169.7h1M454.1 113.3h1M458.5 120.0h1M459.3 121.3h1M465.4 130.2h1M472.0 140.1h1M472.1 141.5h1M482.3 155.9h1M485.4 159.8h1M486.8 162.0h1M487.8 164.2h1M495.8 177.4h1M458.0 117.1h1M459.7 119.4h1M460.8 121.0h1M462.2 122.6h1M466.8 129.7h1M471.4 136.9h1M475.3 143.0h1M484.2 156.1h1M494.0 170.1h1M497.3 175.3h1M498.4 177.6h1M460.9 117.4h1M463.4 122.0h1M475.9 140.9h1M478.0 144.4h1M480.6 146.9h1M481.1 149.0h1M484.0 151.5h1M486.2 155.0h1M486.9 157.7h1M489.2 160.2h1M495.2 168.2h1M499.0 175.7h1M461.2 115.9h1M486.1 152.2h1M493.9 163.8h1M496.0 167.9h1M460.5 111.3h1M466.2 121.2h1M468.0 123.0h1M473.5 130.3h1M474.5 132.9h1M478.8 138.4h1M486.9 149.7h1M489.6 153.7h1M458.9 107.7h1M460.9 110.7h1M472.2 126.3h1M474.1 129.9h1M476.5 133.4h1M478.3 136.0h1M486.2 147.1h1M488.8 149.7h1M491.1 153.7h1M493.2 157.7h1M495.7 160.1h1M501.0 167.5h1M507.6 178.0h1M469.0 118.4h1M472.0 122.6h1M472.0 124.0h1M480.1 135.6h1M495.1 156.6h1M501.2 164.7h1M504.8 170.2h1M469.3 117.8h1M474.8 125.0h1M481.5 134.2h1M493.8 151.7h1M495.6 155.0h1M506.0 169.0h1M506.9 171.0h1M509.4 174.4h1M473.0 120.2h1M481.4 131.9h1M488.6 141.6h1M495.0 151.2h1M499.8 158.1h1M505.5 166.1h1M513.1 177.1h1M468.3 109.4h1M478.8 124.3h1M480.2 126.5h1M483.9 132.9h1M489.2 140.3h1M491.8 142.8h1M493.3 144.7h1M496.9 151.4h1M502.5 157.6h1M506.8 163.8h1M512.3 172.5h1M515.2 176.9h1M467.3 106.3h1M468.7 108.8h1M481.8 126.2h1M486.1 132.7h1M495.0 145.8h1M500.6 153.2h1M502.9 156.3h1M504.4 157.7h1M506.4 160.7h1M507.9 162.8h1M511.9 168.4h1M518.0 177.1h1M478.9 119.3h1M495.4 142.2h1M504.6 155.9h1M506.3 157.6h1M507.5 159.6h1M511.8 165.8h1M513.6 168.1h1M469.3 105.1h1M486.1 126.7h1M491.1 134.0h1M497.7 142.8h1M498.9 145.7h1M501.7 148.5h1M511.0 161.9h1M514.5 166.7h1M523.3 178.6h1M480.8 117.8h1M487.2 126.2h1M488.4 127.8h1M491.6 132.7h1M503.4 147.7h1M518.8 169.8h1M471.6 102.5h1M476.2 109.4h1M481.7 116.4h1M491.0 127.9h1M502.1 144.3h1M505.7 148.4h1M509.8 154.9h1M519.0 167.4h1M527.1 178.0h1M476.0 106.9h1M481.4 113.6h1M490.2 124.8h1M498.2 135.4h1M502.5 142.5h1M507.2 147.5h1M514.0 156.1h1M515.6 159.1h1M519.2 163.5h1M520.6 165.6h1M522.8 169.6h1M524.8 172.2h1M480.5 108.9h1M483.0 113.2h1M498.1 132.7h1M500.3 135.4h1M503.3 139.1h1M504.2 141.9h1M525.2 169.2h1M527.8 173.3h1M477.2 102.7h1M483.4 111.5h1M495.3 125.9h1M499.3 132.3h1M512.8 149.4h1M516.8 155.8h1M532.0 174.4h1M481.7 106.1h1M507.5 140.3h1M514.6 149.2h1M516.0 151.6h1M518.3 154.8h1M528.5 167.7h1M531.1 171.4h1M532.4 173.3h1M536.4 178.0h1M480.6 101.6h1M481.8 104.2h1M483.5 106.8h1M486.5 110.1h1M500.5 127.8h1M501.8 129.8h1M504.5 133.0h1M507.5 136.9h1M509.9 141.4h1M514.8 146.9h1M518.1 151.1h1M520.9 155.3h1M536.1 175.5h1M538.7 177.6h1" stroke="#d6d6d6" stroke-width="1" fill="none"/>
</g>
</svg>
<div class="t" id="t1" style="left:149px;top:107px;letter-spacing:5px">洗浴热水</div>
<div class="t" id="t2" style="left:424px;top:308px;letter-spacing:5px">淋浴废水</div>
<div class="t" id="t3" style="left:670px;top:326px;letter-spacing:5px">双重过滤模块</div>
<div class="t" id="t4" style="left:1042px;top:368px;letter-spacing:5px">污水箱</div>
<div class="t" id="t5" style="left:1259px;top:413px;font-size:25px">泵</div>
<div class="t" id="t6" style="left:224px;top:711px;letter-spacing:5px">洗浴热水储水箱</div>
<div class="t" id="t7" style="left:546px;top:653px;letter-spacing:5px">温度补偿模块</div>
<div class="t" id="t8" style="left:934px;top:743px;letter-spacing:5px">热回收模块</div>
<div class="t" id="t9" style="left:1180px;top:695px;letter-spacing:5.5px">15℃自来水</div>
<div class="t" id="t10" style="left:638px;top:806px;letter-spacing:5px">淋浴废水排出</div>
<div class="t" id="t11" style="left:462px;top:885px;font-size:46px;letter-spacing:11.5px">鲁禹洗浴热回收系统</div>
</body></html>
